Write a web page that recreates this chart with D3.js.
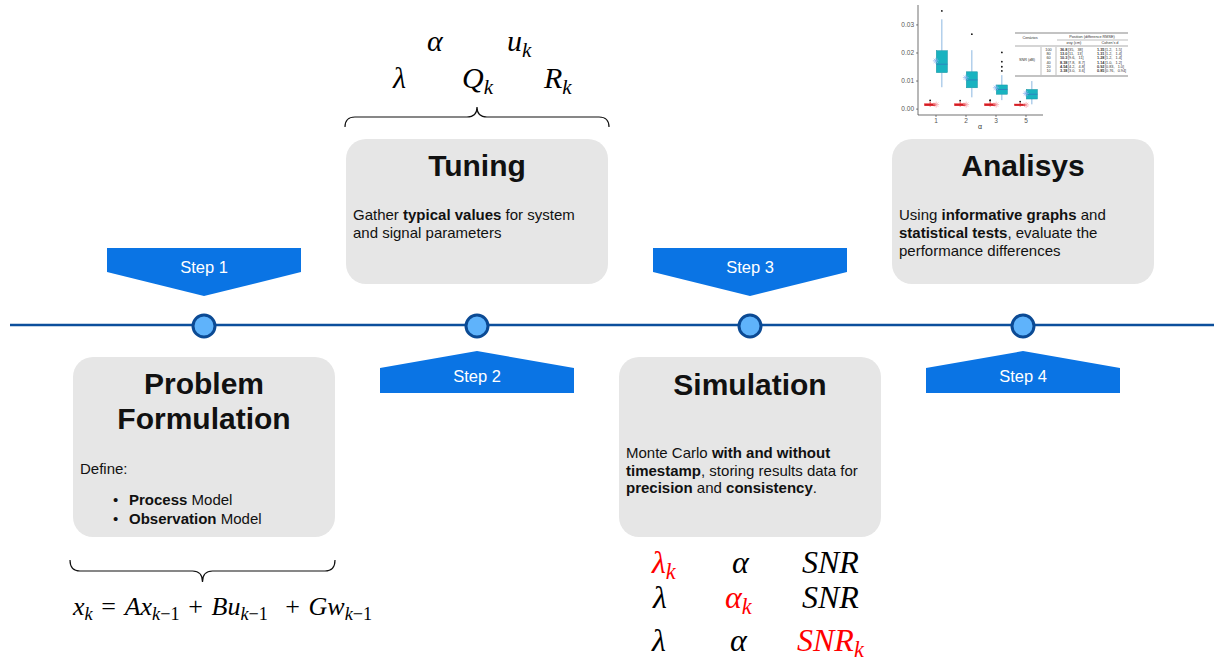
<!DOCTYPE html>
<html>
<head>
<meta charset="utf-8">
<script src="https://cdn.jsdelivr.net/npm/d3@7"></script>
<style>
  html, body { margin: 0; padding: 0; background: #fff; }
  svg text { white-space: pre; }
</style>
</head>
<body>
<div id="chart"></div>
<script>
// ---- data ----
const steps = ['Step 1', 'Step 2', 'Step 3', 'Step 4']
const stepTitles = [['Problem', 'Formulation'], ['Tuning'], ['Simulation'], ['Analisys']]
const stepBodies = [
    [[['Define:', 0]], [['Process', 1], [' Model', 0]], [['Observation', 1], [' Model', 0]]],
    [[['Gather ', 0], ['typical values', 1], [' for system', 0]], [['and signal parameters', 0]]],
    [[['Monte Carlo ', 0], ['with and without', 1]], [['timestamp', 1], [', storing results data for', 0]],
     [['precision', 1], [' and ', 0], ['consistency', 1], ['.', 0]]],
    [[['Using ', 0], ['informative graphs', 1], [' and', 0]], [['statistical tests', 1], [', evaluate the', 0]],
     [['performance differences', 0]]]
]
const stepBullets = [[false, true, true], [false, false], [false, false, false], [false, false, false]]

// tuning parameters (above Tuning box)
const tuningSymbols = [
    [{ t: 'α' }, { t: 'u', sub: 'k' }],
    [{ t: 'λ' }, { t: 'Q', sub: 'k' }, { t: 'R', sub: 'k' }]
]
// simulation scenarios (below Simulation box), red = varied parameter
const scenarioSymbols = [
    [{ t: 'λ', sub: 'k', red: 1 }, { t: 'α' }, { t: 'SNR' }],
    [{ t: 'λ' }, { t: 'α', sub: 'k', red: 1 }, { t: 'SNR' }],
    [{ t: 'λ' }, { t: 'α' }, { t: 'SNR', sub: 'k', red: 1 }]
]
// process model equation
const modelEquation = [
    { t: 'x', sub: 'k' }, { t: '\u2004=\u2004', up: 1 }, { t: 'A' }, { t: 'x', sub: 'k', subUp: '−1' },
    { t: '\u2004+\u2004', up: 1 }, { t: 'B' }, { t: 'u', sub: 'k', subUp: '−1' },
    { t: '\u2004\u2004+\u2004', up: 1 }, { t: 'G' }, { t: 'w', sub: 'k', subUp: '−1' }
]

// small result chart (analysis): RMSE by alpha, with / without timestamp
const alphaCats = ['1', '2', '3', '5']
const yTicks = [0, 0.01, 0.02, 0.03]
const tealLo = [0.0078, 0.0042, 0.0032, 0.0017]
const tealQ1 = [0.0130, 0.0076, 0.0053, 0.0036]
const tealMed = [0.0160, 0.0104, 0.0070, 0.0053]
const tealQ3 = [0.0208, 0.0133, 0.0086, 0.0070]
const tealHi = [0.0320, 0.0210, 0.0121, 0.0100]
const tealMean = [0.0172, 0.0112, 0.0076, 0.0056]
const tealOut = [[0.0350], [0.0267], [0.0202, 0.0169, 0.0151, 0.0136], []]
const redLo = [0.0009, 0.0009, 0.0009, 0.0009]
const redQ1 = [0.0012, 0.0012, 0.0012, 0.0012]
const redMed = [0.0015, 0.0015, 0.0015, 0.0015]
const redQ3 = [0.0019, 0.0019, 0.0019, 0.0018]
const redHi = [0.0026, 0.0025, 0.0025, 0.0024]
const redMean = [0.0016, 0.0016, 0.0016, 0.0015]
const redOut = [[0.0031], [0.0030], [0.0030, 0.0032], [0.0027]]

// small results table
const tableSnr = ['100', '80', '60', '40', '20', '10']
const tableSigma = ['36.8', '13.0', '10.3', '8.38', '4.54', '3.38']
const tableSigmaCI = ['[35,   38]', '[11,   13]', '[9.6,   11]', '[7.8,   8.7]', '[4.2,   4.8]', '[3.0,   3.6]']
const tableCohen = ['1.35', '1.31', '1.28', '1.14', '0.92', '0.85']
const tableCohenCI = ['[1.2,   1.5]', '[1.2,   1.4]', '[1.2,   1.4]', '[1.0,   1.2]', '[0.83,   1.0]', '[0.76,   0.94]']

// ---- layout ----
const W = 1214, H = 663
const lineY = 325
const sans = '"Liberation Sans", Arial, Helvetica, sans-serif'
const serif = '"Liberation Serif", "Times New Roman", serif'
const blue = '#0a74e4'
const boxW = 262, boxR = 20
const boxAbove = { top: 139, bottom: 284 }
const boxBelow = { top: 357, bottom: 537 }
const titleBase = [[394, 429], [176], [395], [176]]
const bodyBase = [[474, 505, 524], [220, 238], [458, 476, 493], [220, 238, 256]]

const svg = d3.select('#chart').append('svg')
    .attr('width', W).attr('height', H)
    .style('font-family', sans)

const sx = d3.scalePoint().domain(steps).range([204, 1023])

// timeline
svg.append('line')
    .attr('x1', 10).attr('x2', W).attr('y1', lineY).attr('y2', lineY)
    .attr('stroke', '#0c4f9c').attr('stroke-width', 2.5)

// step arrows
steps.forEach((s, i) => {
    let cx = sx(s), hw = 97
    let down = i % 2 === 0
    let pts = down
        ? [[cx - hw, 248], [cx + hw, 248], [cx + hw, 272], [cx, 296], [cx - hw, 272]]
        : [[cx, 351], [cx + hw, 368], [cx + hw, 393], [cx - hw, 393], [cx - hw, 368]]
    svg.append('path')
        .attr('d', d3.line()(pts) + 'Z')
        .attr('fill', blue)
    svg.append('text')
        .attr('x', cx).attr('y', down ? 273 : 382)
        .attr('text-anchor', 'middle')
        .attr('fill', '#fff').attr('font-size', 16.5)
        .text(s)
})

// nodes on timeline
svg.selectAll('circle.node').data(steps).join('circle')
    .attr('class', 'node')
    .attr('cx', d => sx(d)).attr('cy', lineY + 1).attr('r', 11)
    .attr('fill', '#5fb3fb').attr('stroke', '#0b4a94').attr('stroke-width', 3)

// boxes
steps.forEach((s, i) => {
    let cx = sx(s)
    let pos = i % 2 === 0 ? boxBelow : boxAbove
    let left = cx - boxW / 2
    svg.append('rect')
        .attr('x', left).attr('y', pos.top)
        .attr('width', boxW).attr('height', pos.bottom - pos.top)
        .attr('rx', boxR).attr('fill', '#e6e6e6')

    stepTitles[i].forEach((t, j) => {
        svg.append('text')
            .attr('x', cx).attr('y', titleBase[i][j])
            .attr('text-anchor', 'middle')
            .attr('font-size', 30).attr('font-weight', 'bold').attr('fill', '#111')
            .text(t)
    })

    stepBodies[i].forEach((line, j) => {
        let bullet = stepBullets[i][j]
        if (bullet) {
            svg.append('text')
                .attr('x', left + 40).attr('y', bodyBase[i][j])
                .attr('font-size', 15).attr('fill', '#111')
                .text('•')
        }
        let txt = svg.append('text')
            .attr('x', left + (bullet ? 56 : 7)).attr('y', bodyBase[i][j])
            .attr('font-size', 15).attr('fill', '#111')
        line.forEach(seg => {
            txt.append('tspan')
                .attr('font-weight', seg[1] ? 'bold' : 'normal')
                .text(seg[0])
        })
    })
})

// math helper: italic symbols with lowered subscripts
function drawMath(x, y, size, pieces) {
    let txt = svg.append('text')
        .attr('x', x).attr('y', y)
        .attr('font-family', serif).attr('font-size', size)
    let sh = size * 0.2
    let pending = 0
    pieces.forEach(p => {
        let col = p.red ? '#f00' : '#000'
        txt.append('tspan')
            .attr('dy', pending || null)
            .attr('font-style', p.up ? 'normal' : 'italic')
            .attr('fill', col)
            .text(p.t)
        pending = 0
        if (p.sub) {
            let subText = txt.append('tspan')
                .attr('dy', sh).attr('font-size', size * 0.7)
                .attr('fill', col)
            subText.append('tspan').attr('font-style', 'italic').text(p.sub)
            if (p.subUp) subText.append('tspan').attr('font-style', 'normal').text(p.subUp)
            pending = -sh
        }
    })
    return txt
}

// braces
function brace(x0, x1, y0, y1, tip) {
    let m = (x0 + x1) / 2, r = 10
    return `M${x0},${y0} Q${x0},${y1} ${x0 + r},${y1} L${m - r},${y1} Q${m},${y1} ${m},${tip}` +
        ` Q${m},${y1} ${m + r},${y1} L${x1 - r},${y1} Q${x1},${y1} ${x1},${y0}`
}
svg.append('path').attr('d', brace(345, 609, 127, 117, 107))
    .attr('fill', 'none').attr('stroke', '#111').attr('stroke-width', 1.2)
svg.append('path').attr('d', brace(70, 335, 560, 571, 582))
    .attr('fill', 'none').attr('stroke', '#111').attr('stroke-width', 1.2)

// tuning symbols
const tuningX = [[427, 507], [393, 462, 544]]
const tuningY = [51, 88]
tuningSymbols.forEach((row, r) => {
    row.forEach((p, k) => drawMath(tuningX[r][k], tuningY[r], 30, [p]))
})

// scenario symbols
const scenX = [[652, 732, 802], [653, 725, 802], [652, 730, 797]]
const scenY = [573, 608, 651]
scenarioSymbols.forEach((row, r) => {
    row.forEach((p, k) => drawMath(scenX[r][k], scenY[r], 32, [p]))
})

// model equation
drawMath(73, 615, 26, modelEquation)

// ---- mini boxplot ----
const g = svg.append('g')
const x = d3.scaleBand().domain(alphaCats).range([921, 1041])
const dodge = d3.scaleBand().domain(['red', 'teal']).range([-12, 12]).padding(0.05)
const y = d3.scaleLinear().domain([-0.0021, 0.0371]).range([115, 5])

g.append('line').attr('x1', 918).attr('x2', 918).attr('y1', 5).attr('y2', 115)
    .attr('stroke', '#333').attr('stroke-width', 0.7)
g.append('line').attr('x1', 918).attr('x2', 1043).attr('y1', 115).attr('y2', 115)
    .attr('stroke', '#333').attr('stroke-width', 0.7)
yTicks.forEach(t => {
    g.append('line').attr('x1', 916).attr('x2', 918).attr('y1', y(t)).attr('y2', y(t))
        .attr('stroke', '#333').attr('stroke-width', 0.6)
    g.append('text').attr('x', 914).attr('y', y(t) + 2)
        .attr('text-anchor', 'end').attr('font-size', 6.5).attr('fill', '#555')
        .text(d3.format('.2f')(t))
})
alphaCats.forEach(c => {
    let cx = x(c) + x.bandwidth() / 2
    g.append('line').attr('x1', cx).attr('x2', cx).attr('y1', 115).attr('y2', 117)
        .attr('stroke', '#333').attr('stroke-width', 0.6)
    g.append('text').attr('x', cx).attr('y', 123)
        .attr('text-anchor', 'middle').attr('font-size', 6.5).attr('fill', '#555')
        .text(c)
})
g.append('text').attr('x', 980).attr('y', 129)
    .attr('text-anchor', 'middle').attr('font-size', 7).attr('fill', '#333')
    .text('α')

function star(cx, cy, r) {
    let d = ''
    for (let a = 0; a < 4; a++) {
        let ang = a * Math.PI / 4
        let dx = Math.cos(ang) * r, dy = Math.sin(ang) * r
        d += `M${cx - dx},${cy - dy}L${cx + dx},${cy + dy}`
    }
    return d
}

function drawBoxes(key, lo, q1, med, q3, hi, mean, outs, st) {
    alphaCats.forEach((c, i) => {
        let bx = x(c) + x.bandwidth() / 2 + dodge(key)
        let bw = dodge.bandwidth()
        let cx = bx + bw / 2
        g.append('line').attr('x1', cx).attr('x2', cx).attr('y1', y(hi[i])).attr('y2', y(q3[i]))
            .attr('stroke', st.whisker).attr('stroke-width', 0.9)
        g.append('line').attr('x1', cx).attr('x2', cx).attr('y1', y(q1[i])).attr('y2', y(lo[i]))
            .attr('stroke', st.whisker).attr('stroke-width', 0.9)
        g.append('rect').attr('x', bx).attr('y', y(q3[i]))
            .attr('width', bw).attr('height', Math.max(1.2, y(q1[i]) - y(q3[i])))
            .attr('fill', st.fill).attr('stroke', st.stroke).attr('stroke-width', 0.5)
        g.append('line').attr('x1', bx).attr('x2', bx + bw).attr('y1', y(med[i])).attr('y2', y(med[i]))
            .attr('stroke', st.median).attr('stroke-width', 0.9)
        outs[i].forEach(o => {
            g.append('circle').attr('cx', cx).attr('cy', y(o)).attr('r', 0.9).attr('fill', '#111')
        })
        g.append('path').attr('d', star(cx + st.starOff, y(mean[i]), 3))
            .attr('stroke', st.star).attr('stroke-width', 0.7)
    })
}
drawBoxes('teal', tealLo, tealQ1, tealMed, tealQ3, tealHi, tealMean, tealOut,
    { fill: '#19b3c0', stroke: '#1592a0', median: '#2f80bd', whisker: '#7fb0de', star: '#86b1ee', starOff: -6 })
drawBoxes('red', redLo, redQ1, redMed, redQ3, redHi, redMean, redOut,
    { fill: '#e8242b', stroke: '#e8242b', median: '#c0161c', whisker: '#e8242b', star: '#f59ca4', starOff: 6 })

// ---- mini table ----
const tb = svg.append('g').attr('font-size', 3.8).attr('fill', '#333')
const tl = (x1, x2, y1, y2, w) => tb.append('line').attr('x1', x1).attr('x2', x2).attr('y1', y1).attr('y2', y2)
    .attr('stroke', '#555').attr('stroke-width', w)
tl(1015, 1128, 33, 33, 0.7)
tl(1057, 1128, 40, 40, 0.4)
tl(1015, 1128, 46, 46, 0.5)
tl(1015, 1128, 76, 76, 0.7)
tl(1041, 1041, 47, 75, 0.4)
tl(1056, 1056, 47, 75, 0.4)
tb.append('text').attr('x', 1030).attr('y', 38.5).attr('text-anchor', 'middle').text('Cenários')
tb.append('text').attr('x', 1092).attr('y', 38).attr('text-anchor', 'middle').text('Position (difference RMSE)')
tb.append('text').attr('x', 1074).attr('y', 44).attr('text-anchor', 'middle').text('σxy (cm)')
tb.append('text').attr('x', 1110).attr('y', 44).attr('text-anchor', 'middle').text("Cohen's d")
tb.append('text').attr('x', 1027).attr('y', 61).attr('text-anchor', 'middle').text('SNR (dB)')
const rowY = d3.scalePoint().domain(tableSnr).range([51, 72])
tableSnr.forEach((s, i) => {
    tb.append('text').attr('x', 1048.5).attr('y', rowY(s)).attr('text-anchor', 'middle').text(s)
    tb.append('text').attr('x', 1060).attr('y', rowY(s)).attr('font-weight', 'bold').text(tableSigma[i])
    tb.append('text').attr('x', 1068).attr('y', rowY(s)).text(tableSigmaCI[i])
    tb.append('text').attr('x', 1097).attr('y', rowY(s)).attr('font-weight', 'bold').text(tableCohen[i])
    tb.append('text').attr('x', 1105).attr('y', rowY(s)).text(tableCohenCI[i])
})
</script>
</body>
</html>
